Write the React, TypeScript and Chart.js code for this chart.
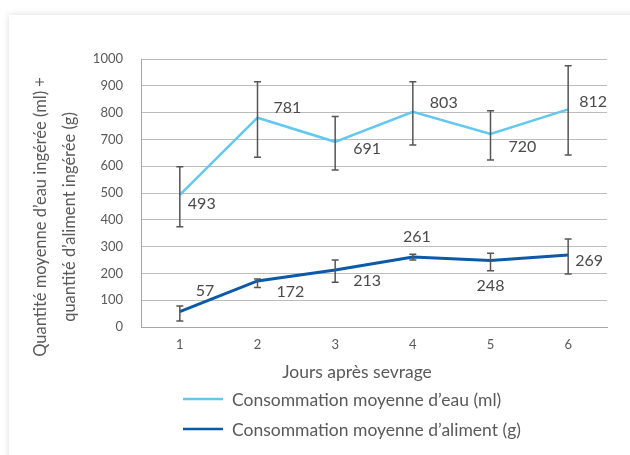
import React, { useEffect, useRef } from "react";
import { Chart, registerables } from "chart.js";

Chart.register(...registerables);

const days = ["1", "2", "3", "4", "5", "6"];
const eau = [493, 781, 691, 803, 720, 812];
const eauHigh = [598, 915, 785, 915, 807, 975];
const eauLow = [374, 633, 586, 679, 623, 642];
const aliment = [57, 172, 213, 261, 248, 269];
const alimentHigh = [78, 179, 250, 271, 275, 328];
const alimentLow = [22, 147, 167, 250, 210, 198];
const seriesNames = ["Consommation moyenne d\u2019eau (ml)", "Consommation moyenne d\u2019aliment (g)"];
const yTitleLines = ["Quantit\u00e9 moyenne d\u2019eau ing\u00e9r\u00e9e (ml) +", "quantit\u00e9 d\u2019aliment ing\u00e9r\u00e9e (g)"];
const xTitle = "Jours apr\u00e8s sevrage";

// label placement: [dx, dy, align]
const eauLabelPos: [number, number, CanvasTextAlign][] = [
  [8, 9, "left"], [16, -10, "left"], [18, 7, "left"], [17, -9, "left"], [18, 13, "left"], [11, -8, "left"],
];
const alimLabelPos: [number, number, CanvasTextAlign][] = [
  [16, -21, "left"], [19, 11, "left"], [18, 11, "left"], [4, -20, "center"], [0, 25, "center"], [7, 6, "left"],
];

const LIGHT = "#62c8f0";
const DARK = "#0b5aa8";
const TEXT = "#595959";
const FONT = "Lato, 'Open Sans', sans-serif";

const overlay = {
  id: "overlay",
  afterDatasetsDraw(chart: any) {
    const { ctx, scales } = chart;
    const x = scales.x, y = scales.y;
    ctx.save();
    // error bars
    const drawErr = (lo: number[], hi: number[]) => {
      ctx.strokeStyle = "#555555";
      ctx.lineWidth = 1.5;
      lo.forEach((l, i) => {
        const px = x.getPixelForValue(i);
        const y1 = y.getPixelForValue(l);
        const y2 = y.getPixelForValue(hi[i]);
        ctx.beginPath();
        ctx.moveTo(px, y1); ctx.lineTo(px, y2);
        ctx.moveTo(px - 3.5, y1); ctx.lineTo(px + 3.5, y1);
        ctx.moveTo(px - 3.5, y2); ctx.lineTo(px + 3.5, y2);
        ctx.stroke();
      });
    };
    drawErr(eauLow, eauHigh);
    drawErr(alimentLow, alimentHigh);
    // data labels
    ctx.fillStyle = "#4a4a4a";
    ctx.font = "16px " + FONT;
    ctx.textBaseline = "middle";
    const drawLabels = (vals: number[], pos: [number, number, CanvasTextAlign][]) => {
      vals.forEach((v, i) => {
        const px = x.getPixelForValue(i);
        const py = y.getPixelForValue(v);
        ctx.textAlign = pos[i][2];
        ctx.fillText(String(v), px + pos[i][0], py + pos[i][1]);
      });
    };
    drawLabels(eau, eauLabelPos);
    drawLabels(aliment, alimLabelPos);
    // y title
    ctx.fillStyle = TEXT;
    ctx.font = "16.5px " + FONT;
    ctx.textAlign = "center";
    ctx.textBaseline = "middle";
    ctx.save();
    ctx.translate(41, 217);
    ctx.rotate(-Math.PI / 2);
    ctx.fillText(yTitleLines[0], 0, 0);
    ctx.restore();
    ctx.save();
    ctx.translate(70, 217);
    ctx.rotate(-Math.PI / 2);
    ctx.fillText(yTitleLines[1], 0, 0);
    ctx.restore();
    // x title
    ctx.font = "17.5px " + FONT;
    ctx.fillText(xTitle, 357, 372);
    // legend
    const cols = [LIGHT, DARK];
    const rows = [399, 429];
    ctx.textAlign = "left";
    seriesNames.forEach((n, i) => {
      ctx.strokeStyle = cols[i];
      ctx.lineWidth = 2.5;
      ctx.beginPath();
      ctx.moveTo(183, rows[i]);
      ctx.lineTo(223, rows[i]);
      ctx.stroke();
      ctx.fillStyle = TEXT;
      ctx.fillText(n, 232, rows[i] + 1);
    });
    ctx.restore();
  },
};

export default function App() {
  const ref = useRef<HTMLCanvasElement | null>(null);
  useEffect(() => {
    if (!ref.current) return;
    const chart = new Chart(ref.current, {
      type: "line",
      data: {
        labels: days,
        datasets: [
          { label: seriesNames[0], data: eau, borderColor: LIGHT, backgroundColor: LIGHT, borderWidth: 2.5, pointRadius: 0, tension: 0 },
          { label: seriesNames[1], data: aliment, borderColor: DARK, backgroundColor: DARK, borderWidth: 3, pointRadius: 0, tension: 0 },
        ],
      },
      plugins: [overlay],
      options: {
        animation: false,
        responsive: false,
        devicePixelRatio: 1,
        layout: { padding: { left: 0, top: 59, right: 23, bottom: 0 } },
        plugins: { legend: { display: false }, tooltip: { enabled: false } },
        scales: {
          x: {
            offset: true,
            grid: { display: false, drawTicks: false },
            border: { display: true, color: "#a6a6a6", width: 1 },
            ticks: { color: TEXT, font: { family: FONT, size: 13 }, padding: 10 },
            afterFit: (s: any) => { s.height = 128; },
          },
          y: {
            min: 0,
            max: 1000,
            ticks: { stepSize: 100, color: TEXT, font: { family: FONT, size: 13 }, padding: 18, callback: (v: any) => String(v) },
            grid: { color: "#bcbcbc", lineWidth: 1, drawTicks: false },
            border: { display: true, color: "#a6a6a6", width: 1 },
            afterFit: (s: any) => { s.width = 141; },
          },
        },
      },
    });
    return () => chart.destroy();
  }, []);
  return (
    <div style={{ position: "fixed", left: 0, top: 0, width: 630, height: 455, overflow: "hidden", background: "#fff" }}>
      <div style={{ position: "absolute", left: 9, top: 15, width: 700, height: 520, background: "#fff", boxShadow: "0 0 7px rgba(0,0,0,0.14)" }} />
      <canvas ref={ref} width={630} height={455} style={{ position: "absolute", left: 0, top: 0, width: 630, height: 455 }} />
    </div>
  );
}
